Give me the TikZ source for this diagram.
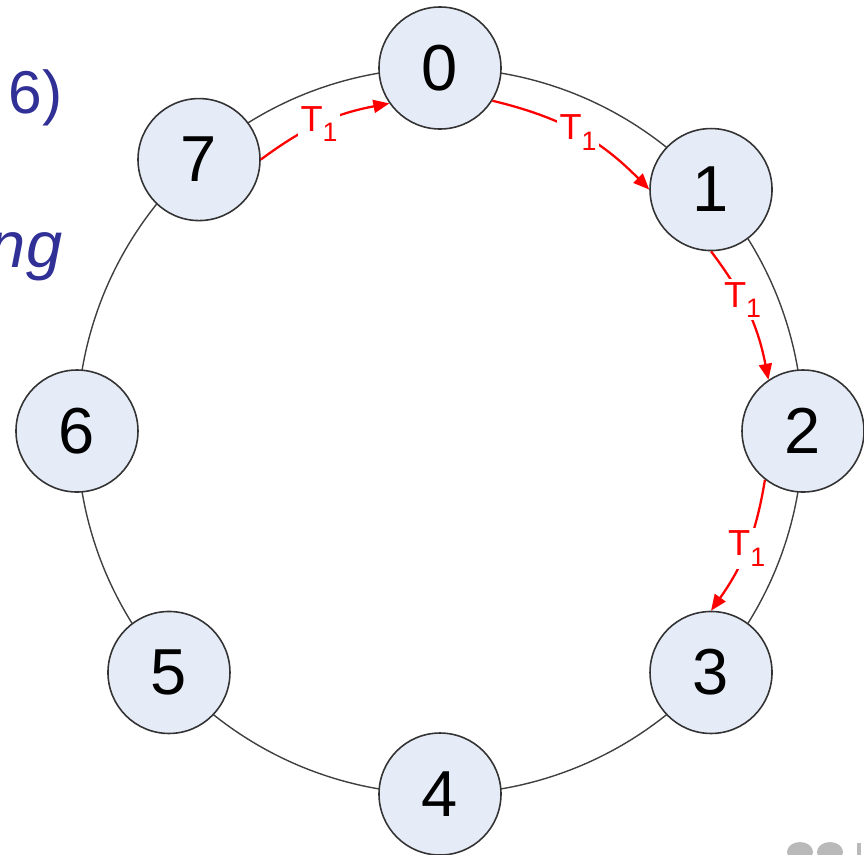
\documentclass[tikz,border=0pt]{standalone}
\usepackage{fontspec}
\setmainfont{Liberation Sans}
\usepackage{xcolor}
\usepackage{tikz}
\usetikzlibrary{arrows.meta,positioning}

\definecolor{nodefill}{RGB}{230,236,247}
\definecolor{slideblue}{RGB}{48,48,150}
\definecolor{logogray}{RGB}{185,185,185}

\newcommand{\tsub}[1]{\raisebox{-0.55ex}{\fontsize{7.6}{8}\selectfont #1}}

\begin{document}
\begin{tikzpicture}[
    ringnode/.style={circle, draw=black!80, line width=0.45pt, fill=nodefill, minimum size=1.22cm, inner sep=0pt, font=\fontsize{18.5}{20}\selectfont},
    ring/.style={draw=black!75, line width=0.4pt},
    token/.style={-{Triangle[length=1.6mm,width=1.3mm]}, red, line width=0.65pt},
    tlabel/.style={fill=white, inner sep=0.8pt, text=red, font=\fontsize{10.3}{12}\selectfont},
    slidetext/.style={text=slideblue, inner sep=0pt}
]
    \useasboundingbox (-4.40,4.31) rectangle (4.24,-4.23);

    % cut-off slide text on the left
    \node[slidetext, anchor=base east, font=\fontsize{17.2}{20}\selectfont] (title) at (-3.77,3.18) {6)};
    \node[slidetext, anchor=base east, font=\fontsize{18.5}{20}\selectfont\itshape] (word) at (-3.77,1.64) {ng};

    % the ring
    \draw[ring] (0,0) circle (3.63);

    \node[ringnode] (n0) at (90:3.63) {0};
    \node[ringnode] (n1) at (41.7:3.63) {1};
    \node[ringnode] (n2) at (0:3.63) {2};
    \node[ringnode] (n3) at (-41.7:3.63) {3};
    \node[ringnode] (n4) at (-90:3.63) {4};
    \node[ringnode] (n5) at (-138.3:3.63) {5};
    \node[ringnode] (n6) at (180:3.63) {6};
    \node[ringnode] (n7) at (131.6:3.63) {7};

    % token passing
    \draw[token] (n7.east) to[bend left=13] node[tlabel, pos=0.48] {T\tsub{1}} (n0.215);
    \draw[token] (n0.-32) to[bend left=16] node[tlabel, pos=0.5] {T\tsub{1}} (n1.west);
    \draw[token] (n1.south) to[bend left=13] node[tlabel, pos=0.4] {T\tsub{1}} (n2.124);
    \draw[token] (n2.232) to[bend left=13] node[tlabel, pos=0.5] {T\tsub{1}} (n3.north);

    % logo fragment, bottom right
    \fill[logogray] (3.60,-4.21) ellipse (0.13 and 0.10);
    \fill[logogray] (3.90,-4.21) ellipse (0.13 and 0.10);
    \fill[logogray] (4.17,-4.12) rectangle (4.21,-4.30);
\end{tikzpicture}
\end{document}
